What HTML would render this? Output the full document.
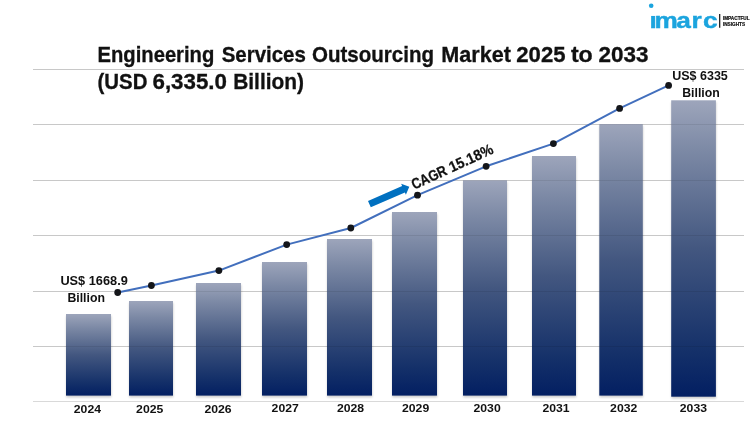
<!DOCTYPE html>
<html><head><meta charset="utf-8"><title>Engineering Services Outsourcing Market</title>
<style>
html,body{margin:0;padding:0;background:#fff;}
body{width:754px;height:426px;overflow:hidden;position:relative;font-family:"Liberation Sans",sans-serif;}
svg{position:absolute;left:0;top:0;display:block;}
text{font-family:"Liberation Sans",sans-serif;font-weight:bold;fill:#111;}
</style></head><body>
<svg width="754" height="426" viewBox="0 0 754 426">
<defs>
<linearGradient id="bg" x1="0" y1="0" x2="0" y2="1">
<stop offset="0" stop-color="rgb(157,165,187)"/><stop offset="0.17" stop-color="rgb(124,137,165)"/><stop offset="0.5" stop-color="rgb(67,87,128)"/><stop offset="0.85" stop-color="rgb(20,48,105)"/><stop offset="1" stop-color="rgb(3,31,98)"/>
</linearGradient>
<filter id="sh" x="-10%" y="-5%" width="125%" height="112%"><feGaussianBlur stdDeviation="1.1"/></filter>
</defs>
<rect width="754" height="426" fill="#fff"/>

<line x1="33" x2="744" y1="69.5" y2="69.5" stroke="#d9d9d9" stroke-width="1"/>
<line x1="33" x2="744" y1="124.5" y2="124.5" stroke="#d9d9d9" stroke-width="1"/>
<line x1="33" x2="744" y1="180.5" y2="180.5" stroke="#d9d9d9" stroke-width="1"/>
<line x1="33" x2="744" y1="235.5" y2="235.5" stroke="#d9d9d9" stroke-width="1"/>
<line x1="33" x2="744" y1="291.5" y2="291.5" stroke="#d9d9d9" stroke-width="1"/>
<line x1="33" x2="744" y1="346.5" y2="346.5" stroke="#d9d9d9" stroke-width="1"/>
<line x1="33" x2="744" y1="401.5" y2="401.5" stroke="#d9d9d9" stroke-width="1"/>
<rect x="66.3" y="315.8" width="45.0" height="81.6" fill="#000" opacity="0.2" filter="url(#sh)"/>
<rect x="66" y="314" width="45.0" height="81.6" fill="url(#bg)"/>
<rect x="129.3" y="302.8" width="44.0" height="94.6" fill="#000" opacity="0.2" filter="url(#sh)"/>
<rect x="129" y="301" width="44.0" height="94.6" fill="url(#bg)"/>
<rect x="196.3" y="284.8" width="45.0" height="112.6" fill="#000" opacity="0.2" filter="url(#sh)"/>
<rect x="196" y="283" width="45.0" height="112.6" fill="url(#bg)"/>
<rect x="262.3" y="263.8" width="45.0" height="133.6" fill="#000" opacity="0.2" filter="url(#sh)"/>
<rect x="262" y="262" width="45.0" height="133.6" fill="url(#bg)"/>
<rect x="327.3" y="240.8" width="45.0" height="156.6" fill="#000" opacity="0.2" filter="url(#sh)"/>
<rect x="327" y="239" width="45.0" height="156.6" fill="url(#bg)"/>
<rect x="392.3" y="213.8" width="45.0" height="183.6" fill="#000" opacity="0.2" filter="url(#sh)"/>
<rect x="392" y="212" width="45.0" height="183.6" fill="url(#bg)"/>
<rect x="463.3" y="182.10000000000002" width="44.0" height="215.3" fill="#000" opacity="0.2" filter="url(#sh)"/>
<rect x="463" y="180.3" width="44.0" height="215.3" fill="url(#bg)"/>
<rect x="532.3" y="157.8" width="44.0" height="239.6" fill="#000" opacity="0.2" filter="url(#sh)"/>
<rect x="532" y="156" width="44.0" height="239.6" fill="url(#bg)"/>
<rect x="599.5999999999999" y="125.89999999999999" width="43.5" height="271.5" fill="#000" opacity="0.2" filter="url(#sh)"/>
<rect x="599.3" y="124.1" width="43.5" height="271.5" fill="url(#bg)"/>
<rect x="671.5" y="102.1" width="44.7" height="296.4" fill="#000" opacity="0.2" filter="url(#sh)"/>
<rect x="671.2" y="100.3" width="44.7" height="296.4" fill="url(#bg)"/>
<line x1="33" x2="744" y1="69.5" y2="69.5" stroke="#000" stroke-opacity="0.08" stroke-width="1"/>
<line x1="33" x2="744" y1="124.5" y2="124.5" stroke="#000" stroke-opacity="0.08" stroke-width="1"/>
<line x1="33" x2="744" y1="180.5" y2="180.5" stroke="#000" stroke-opacity="0.08" stroke-width="1"/>
<line x1="33" x2="744" y1="235.5" y2="235.5" stroke="#000" stroke-opacity="0.08" stroke-width="1"/>
<line x1="33" x2="744" y1="291.5" y2="291.5" stroke="#000" stroke-opacity="0.08" stroke-width="1"/>
<line x1="33" x2="744" y1="346.5" y2="346.5" stroke="#000" stroke-opacity="0.08" stroke-width="1"/>
<polyline points="117.7,292.5 151.4,285.5 218.9,270.6 286.7,244.6 350.8,228 417.5,195.2 486.1,166.3 553.4,143.6 619.6,108.4 668.6,85.4" fill="none" stroke="#426fbd" stroke-width="2" stroke-linejoin="round"/>
<circle cx="117.7" cy="292.5" r="3.4" fill="#14161a"/>
<circle cx="151.4" cy="285.5" r="3.4" fill="#14161a"/>
<circle cx="218.9" cy="270.6" r="3.4" fill="#14161a"/>
<circle cx="286.7" cy="244.6" r="3.4" fill="#14161a"/>
<circle cx="350.8" cy="228" r="3.4" fill="#14161a"/>
<circle cx="417.5" cy="195.2" r="3.4" fill="#14161a"/>
<circle cx="486.1" cy="166.3" r="3.4" fill="#14161a"/>
<circle cx="553.4" cy="143.6" r="3.4" fill="#14161a"/>
<circle cx="619.6" cy="108.4" r="3.4" fill="#14161a"/>
<circle cx="668.6" cy="85.4" r="3.4" fill="#14161a"/>
<text x="73.8" y="413.2" font-size="11.5" textLength="27.2" lengthAdjust="spacingAndGlyphs">2024</text>
<text x="136.1" y="413.2" font-size="11.5" textLength="27.2" lengthAdjust="spacingAndGlyphs">2025</text>
<text x="204.4" y="413.2" font-size="11.5" textLength="27.2" lengthAdjust="spacingAndGlyphs">2026</text>
<text x="271.6" y="411.7" font-size="11.5" textLength="27.2" lengthAdjust="spacingAndGlyphs">2027</text>
<text x="336.9" y="411.7" font-size="11.5" textLength="27.2" lengthAdjust="spacingAndGlyphs">2028</text>
<text x="402.0" y="412.4" font-size="11.5" textLength="27.2" lengthAdjust="spacingAndGlyphs">2029</text>
<text x="473.5" y="412.4" font-size="11.5" textLength="27.2" lengthAdjust="spacingAndGlyphs">2030</text>
<text x="542.4" y="412.3" font-size="11.5" textLength="27.2" lengthAdjust="spacingAndGlyphs">2031</text>
<text x="610.1" y="412" font-size="11.5" textLength="27.2" lengthAdjust="spacingAndGlyphs">2032</text>
<text x="679.8" y="412.1" font-size="11.5" textLength="27.2" lengthAdjust="spacingAndGlyphs">2033</text>

<text x="60.4" y="285" font-size="12" textLength="67.4" lengthAdjust="spacingAndGlyphs">US$ 1668.9</text>
<text x="86.2" y="301.6" font-size="12.3" text-anchor="middle">Billion</text>
<text x="672.2" y="80" font-size="12" textLength="55.6" lengthAdjust="spacingAndGlyphs">US$ 6335</text>
<text x="701" y="96.6" font-size="12.3" text-anchor="middle">Billion</text>
<g transform="translate(414.2,189.7) rotate(-24.6)"><text y="0" font-size="15" stroke="#111" stroke-width="0.25"><tspan x="0" textLength="37.4" lengthAdjust="spacingAndGlyphs">CAGR</tspan> <tspan x="41.2" textLength="47" lengthAdjust="spacingAndGlyphs">15.18%</tspan></text></g>
<g transform="translate(369.4,204.1) rotate(-23.5)"><polygon points="0,-3.5 37.2,-3.5 37.2,-5.9 43.5,0 37.2,5.9 37.2,3.5 0,3.5" fill="#0070c0"/></g>
<text y="61.8" font-size="21.2" stroke="#111" stroke-width="0.3"><tspan x="97.5" textLength="116.8" lengthAdjust="spacingAndGlyphs">Engineering</tspan> <tspan x="221.7" textLength="84.2" lengthAdjust="spacingAndGlyphs">Services</tspan> <tspan x="312" textLength="122.0" lengthAdjust="spacingAndGlyphs">Outsourcing</tspan> <tspan x="441.3" textLength="69.6" lengthAdjust="spacingAndGlyphs">Market</tspan> <tspan x="516.3" textLength="49.2" lengthAdjust="spacingAndGlyphs">2025</tspan> <tspan x="570.9" textLength="21.9" lengthAdjust="spacingAndGlyphs">to</tspan> <tspan x="598.6" textLength="50.0" lengthAdjust="spacingAndGlyphs">2033</tspan></text>
<text y="89.1" font-size="21.2" stroke="#111" stroke-width="0.3"><tspan x="97.5" textLength="49.9" lengthAdjust="spacingAndGlyphs">(USD</tspan> <tspan x="152.5" textLength="74.5" lengthAdjust="spacingAndGlyphs">6,335.0</tspan> <tspan x="233.2" textLength="70.8" lengthAdjust="spacingAndGlyphs">Billion)</tspan></text>
<text transform="scale(1.15,1)" x="564.7 569.1 588.1 601.4 611.3" y="28.1" font-size="22.8" stroke="#1ba4de" stroke-width="0.45" style="fill:#1ba4de">imarc</text>
<rect x="649.5" y="9.5" width="6.8" height="6.3" fill="#fff"/>
<circle cx="651.2" cy="5.8" r="2.3" fill="#1ba4de"/>
<line x1="719.7" x2="719.7" y1="13.9" y2="27.7" stroke="#111" stroke-width="1.2"/>
<text x="722.9" y="19.6" font-size="4.75" stroke="#111" stroke-width="0.2" textLength="26.7" lengthAdjust="spacingAndGlyphs">IMPACTFUL</text>
<text x="722.9" y="25.5" font-size="4.75" stroke="#111" stroke-width="0.2" textLength="22.2" lengthAdjust="spacingAndGlyphs">INSIGHTS</text>
</svg>
</body></html>
